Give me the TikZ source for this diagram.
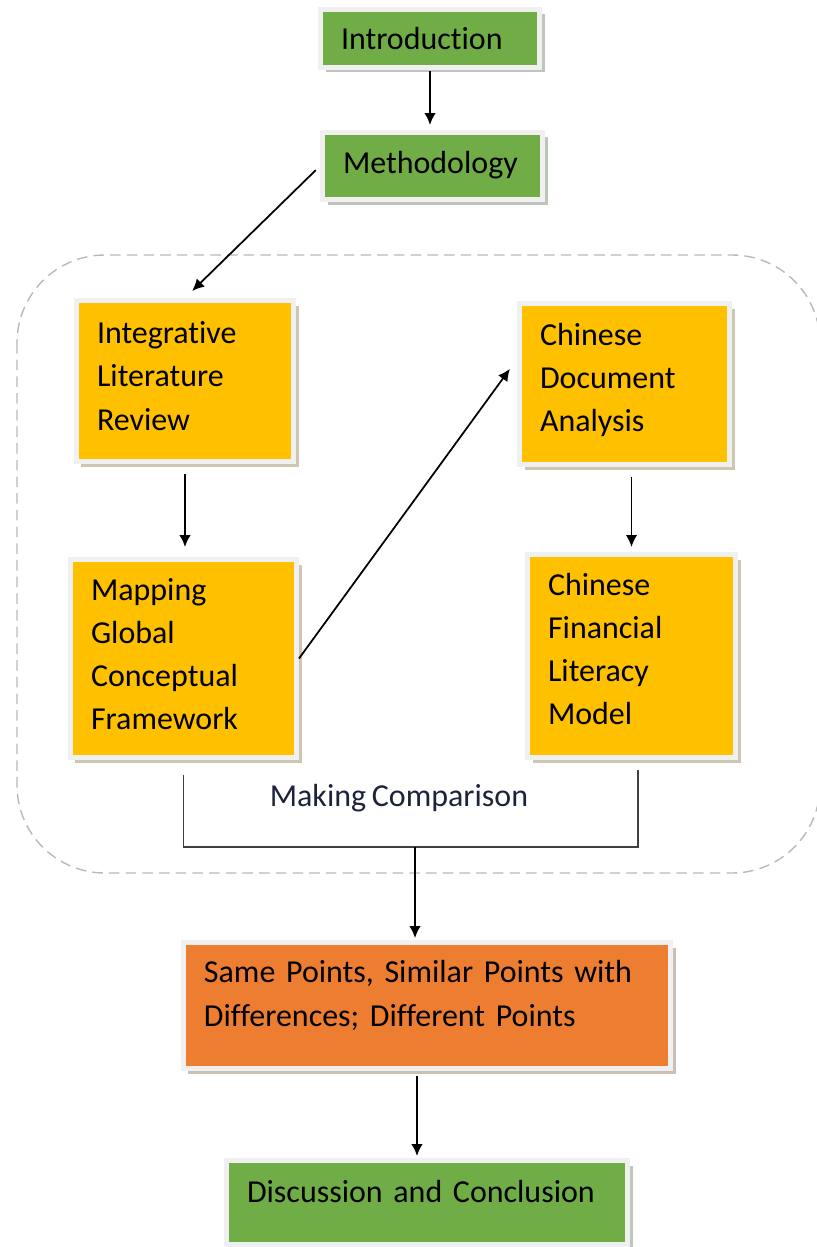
\documentclass[tikz,border=0pt]{standalone}
\usepackage{fontspec}
\setmainfont{Carlito}[Ligatures=NoCommon, WordSpace=0.8]
\usetikzlibrary{shadows}
\usetikzlibrary{positioning}
\usetikzlibrary{arrows,arrows.meta,shapes}
\usetikzlibrary{calc}

\definecolor{boxgreen}{RGB}{112,173,71}
\definecolor{boxgold}{RGB}{255,192,0}
\definecolor{boxorange}{RGB}{237,125,49}
\definecolor{framegray}{RGB}{240,240,240}
\definecolor{labelnavy}{RGB}{30,35,60}

\tikzset{
  stagebox/.style={draw=framegray, line width=0.1cm, inner sep=0pt},
  stagetext/.style={align=left, inner xsep=0pt, inner ysep=0pt, font=\fontsize{18.2}{24.6}\selectfont},
  arr/.style={-{Latex[length=0.24cm,width=0.23cm]}, line width=1pt},
  bracket/.style={draw=black!75, line width=1.1pt},
}

\begin{document}
\begin{tikzpicture}[x=0.02cm, y=-0.02cm]
  \useasboundingbox (0,0) rectangle (817,1247);

	% dashed frame round both columns
	\draw[gray!55, line width=0.8pt, dash pattern=on 6pt off 3.5pt, rounded corners=1.76cm] (17,255) rectangle (820,873);

       \foreach \name/\x/\y/\w/\h/\up/\col/\txt in {
             intro/430/38.5/214/53/0/boxgreen/Introduction,
             method/432.5/166/215/62/1/boxgreen/Methodology,
             review/185/381/212/156/5/boxgold/{Integrative\\Literature\\Review},
             docana/624.5/384/205/156/4/boxgold/{Chinese\\Document\\Analysis},
             mapping/183.5/658.5/221/193/4.5/boxgold/{Mapping\\Global\\Conceptual\\Framework},
             model/631.5/656/203/198/7/boxgold/{Chinese\\Financial\\Literacy\\Model},
             points/427/1005.5/482/121/10/boxorange/{Same Points, Similar Points with\\Differences; Different Points},
             concl/427/1202.5/396/79/11/boxgreen/{Discussion and Conclusion}} {
         	\pgfmathsetmacro{\tw}{(\w-36)*0.02}
         	\pgfmathsetmacro{\bw}{(\w+5)*0.02}
         	\pgfmathsetmacro{\bh}{(\h+5)*0.02}
         	\pgfmathsetmacro{\dy}{\up*0.02}
         	\node[stagebox, fill=\col, minimum width=\bw cm, minimum height=\bh cm,
         	      drop shadow={shadow xshift=0.1cm, shadow yshift=-0.1cm, fill=\col!35!black!30, opacity=1}] (\name) at (\x,\y) {};
         	\node[stagetext, text width=\tw cm] (\name-text) at ([yshift=\dy cm]\name.center) {\txt};
   	 }

	\draw[arr, shorten <=0.03cm, shorten >=0.1cm] (intro.south) -- (intro.south |- method.north);
	\draw[arr, shorten <=0.12cm, shorten >=0.2cm] (method.west) -- (review.north);
	\draw[arr, shorten <=0.2cm, shorten >=0.2cm] (review.south) -- (review.south |- mapping.north);
	\draw[arr, shorten >=0.24cm] (mapping.east) -- (docana.167);
	\draw[arr, shorten <=0.2cm, shorten >=0.1cm] (model.north |- docana.south) -- (model.north);

	\coordinate (cmp) at (415,847);
	\draw[bracket, shorten <=0.3cm, shorten >=0.2cm] (mapping.south) |- (cmp) -| ([xshift=0.13cm]model.south);
	\node[text=labelnavy, font=\fontsize{18.2}{24.6}\selectfont] (cmplabel) at (399,798) {Making Comparison};

	\draw[arr, shorten >=0.04cm] (cmp) -- (cmp |- points.north);
	\draw[arr, shorten <=0.1cm, shorten >=0.04cm] ([xshift=-0.2cm]points.south) -- ([xshift=-0.2cm]concl.north);

\end{tikzpicture}
\end{document}
